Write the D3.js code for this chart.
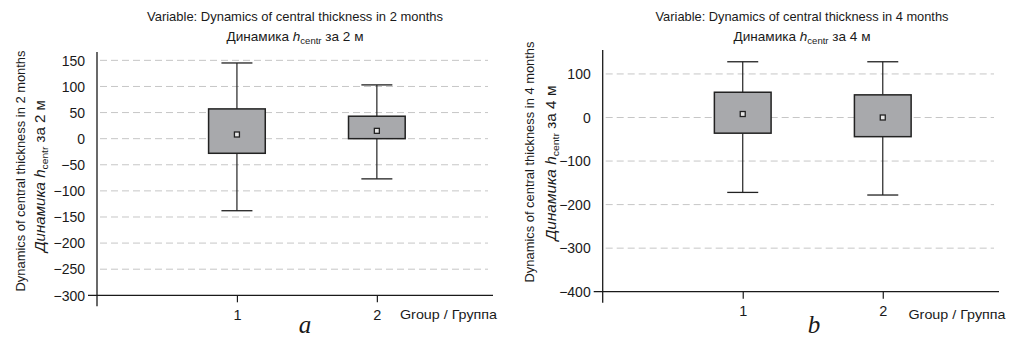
<!DOCTYPE html>
<html>
<head>
<meta charset="utf-8">
<script src="https://cdn.jsdelivr.net/npm/d3@7/dist/d3.min.js"></script>
<style>
  html, body { margin: 0; padding: 0; background: #fff; }
  svg { display: block; }
  text { font-family: "Liberation Sans", Arial, sans-serif; fill: #1a1a1a; }
</style>
</head>
<body>
<svg id="chart" width="1024" height="344"></svg>
<script>
// Groups on the x axis
const groups = ["1", "2"];

// Change of central thickness over 2 months, per group
const m2Min  = [-138, -77];
const m2Q1   = [-28, 0];
const m2Mean = [8, 15];
const m2Q3   = [57, 43];
const m2Max  = [145, 103];
const m2Ticks = [150, 100, 50, 0, -50, -100, -150, -200, -250, -300];

// Change of central thickness over 4 months, per group
const m4Min  = [-172, -178];
const m4Q1   = [-36, -44];
const m4Mean = [8, 0];
const m4Q3   = [58, 52];
const m4Max  = [128, 128];
const m4Ticks = [100, 0, -100, -200, -300, -400];

const svg = d3.select("#chart");
const fmt = v => (v < 0 ? "\u2212" + Math.abs(v) : String(v));
const FONT = "\"Liberation Sans\", Arial, sans-serif";

// Writes "Динамика h_centr за N м" into a text element
function dynLabel(sel, n, italicWord) {
  sel.append("tspan").text("Динамика ").style("font-style", italicWord ? "italic" : "normal");
  sel.append("tspan").text("h").style("font-style", "italic");
  sel.append("tspan").text("centr").attr("dy", 3).style("font-size", "9.5px");
  sel.append("tspan").text(" за " + n + " м").attr("dy", -3);
}

function drawPanel(p) {
  const g = svg.append("g");
  const x = d3.scaleLinear().domain([0, 2.83]).range([p.x0, p.x1]);
  const y = d3.scaleLinear().domain(p.yDomain).range([p.yBottom, p.yTop]);
  const bw = x(0.405) - x(0);
  const cap = 31;

  // dashed grid
  g.append("g").selectAll("line")
    .data(p.ticks.filter(t => t !== p.yDomain[0]))
    .join("line")
    .attr("x1", p.x0 + 3).attr("x2", p.x1 - 5)
    .attr("y1", d => y(d)).attr("y2", d => y(d))
    .attr("stroke", "#c6c6c6").attr("stroke-width", 1)
    .attr("stroke-dasharray", "7,4");

  // y tick labels
  const yAxis = d3.axisLeft(y).tickValues(p.ticks).tickFormat(fmt).tickSize(0).tickPadding(12);
  const ya = g.append("g").attr("transform", `translate(${p.x0},0)`).call(yAxis);
  ya.select(".domain").remove();
  ya.selectAll("text").style("font-size", "14px").style("font-family", FONT).attr("fill", "#1a1a1a")
    .attr("dy", "0.34em");

  // x ticks and labels
  const xAxis = d3.axisBottom(x).tickValues(groups.map(Number)).tickFormat(d => String(d)).tickSize(7).tickPadding(7);
  const xa = g.append("g").attr("transform", `translate(0,${p.yBottom})`).call(xAxis);
  xa.select(".domain").remove();
  xa.selectAll("line").attr("stroke", "#1a1a1a").attr("stroke-width", 1.2);
  xa.selectAll("text").style("font-size", "14.5px").style("font-family", FONT).attr("fill", "#1a1a1a");

  // axis lines (crossing at bottom-left)
  g.append("line").attr("x1", p.x0).attr("x2", p.x0).attr("y1", p.yTop).attr("y2", p.yBottom + 11)
    .attr("stroke", "#1a1a1a").attr("stroke-width", 1.3);
  g.append("line").attr("x1", p.x0 - 9).attr("x2", p.x1).attr("y1", p.yBottom).attr("y2", p.yBottom)
    .attr("stroke", "#1a1a1a").attr("stroke-width", 1.3);

  const data = groups.map((k, i) => ({
    k: +k, min: p.min[i], q1: p.q1[i], mean: p.mean[i], q3: p.q3[i], max: p.max[i]
  }));

  const b = g.append("g").selectAll("g").data(data).join("g");
  // whiskers
  b.append("line").attr("x1", d => x(d.k)).attr("x2", d => x(d.k))
    .attr("y1", d => y(d.max)).attr("y2", d => y(d.q3)).attr("stroke", "#222").attr("stroke-width", 1.2);
  b.append("line").attr("x1", d => x(d.k)).attr("x2", d => x(d.k))
    .attr("y1", d => y(d.q1)).attr("y2", d => y(d.min)).attr("stroke", "#222").attr("stroke-width", 1.2);
  b.append("line").attr("x1", d => x(d.k) - cap / 2).attr("x2", d => x(d.k) + cap / 2)
    .attr("y1", d => y(d.max)).attr("y2", d => y(d.max)).attr("stroke", "#222").attr("stroke-width", 1.3);
  b.append("line").attr("x1", d => x(d.k) - cap / 2).attr("x2", d => x(d.k) + cap / 2)
    .attr("y1", d => y(d.min)).attr("y2", d => y(d.min)).attr("stroke", "#222").attr("stroke-width", 1.3);
  // boxes
  b.append("rect").attr("x", d => x(d.k) - bw / 2).attr("width", bw)
    .attr("y", d => y(d.q3)).attr("height", d => y(d.q1) - y(d.q3))
    .attr("fill", "#a8a9ac").attr("stroke", "#222").attr("stroke-width", 1.5);
  // mean markers
  b.append("rect").attr("x", d => x(d.k) - 2.5).attr("y", d => y(d.mean) - 2.5)
    .attr("width", 5).attr("height", 5)
    .attr("fill", "#e6e6e6").attr("stroke", "#222").attr("stroke-width", 1.3);

  // title
  const cx = p.titleX;
  g.append("text").attr("x", cx).attr("y", 20.5).attr("text-anchor", "middle")
    .style("font-size", "13.5px").attr("textLength", p.titleW).attr("lengthAdjust", "spacingAndGlyphs")
    .text(`Variable: Dynamics of central thickness in ${p.n} months`);
  const t2 = g.append("text").attr("x", cx).attr("y", 41).attr("text-anchor", "middle")
    .style("font-size", "13.5px").attr("textLength", 137).attr("lengthAdjust", "spacingAndGlyphs");
  dynLabel(t2, p.n, false);

  // y label, two lines
  g.append("text").attr("transform", `translate(${p.ylx1},${p.ylc1}) rotate(-90)`).attr("text-anchor", "middle")
    .style("font-size", "13.5px").attr("textLength", 241).attr("lengthAdjust", "spacingAndGlyphs")
    .text(`Dynamics of central thickness in ${p.n} months`);
  const yl2 = g.append("text").attr("transform", `translate(${p.ylx2},${p.ylc2}) rotate(-90)`).attr("text-anchor", "middle")
    .style("font-size", "14px").attr("textLength", p.yl2W).attr("lengthAdjust", "spacingAndGlyphs");
  dynLabel(yl2, p.n, true);

  // x axis name
  g.append("text").attr("x", p.groupX).attr("y", 318.5)
    .style("font-size", "13.5px").attr("textLength", 97).attr("lengthAdjust", "spacingAndGlyphs")
    .text("Group / Группа");

  // panel letter
  g.append("text").attr("x", p.letterX).attr("y", 333).attr("text-anchor", "middle")
    .style("font-family", "\"Liberation Serif\", \"Times New Roman\", serif").style("font-style", "italic")
    .style("font-size", "25px").attr("fill", "#333").text(p.letter);
}

drawPanel({
  n: 2, letter: "a",
  x0: 97, x1: 493, yTop: 52, yBottom: 295.3, yDomain: [-300, 166],
  ticks: m2Ticks, min: m2Min, q1: m2Q1, mean: m2Mean, q3: m2Q3, max: m2Max,
  titleX: 295, titleW: 296,
  ylx1: 25, ylc1: 171, ylx2: 45, ylc2: 176, yl2W: 152,
  groupX: 400, letterX: 305
});

drawPanel({
  n: 4, letter: "b",
  x0: 602.7, x1: 999, yTop: 50, yBottom: 291.7, yDomain: [-400, 155],
  ticks: m4Ticks, min: m4Min, q1: m4Q1, mean: m4Mean, q3: m4Q3, max: m4Max,
  titleX: 802, titleW: 293,
  ylx1: 534, ylc1: 162, ylx2: 556, ylc2: 163, yl2W: 155,
  groupX: 908.5, letterX: 814
});
</script>
</body>
</html>
